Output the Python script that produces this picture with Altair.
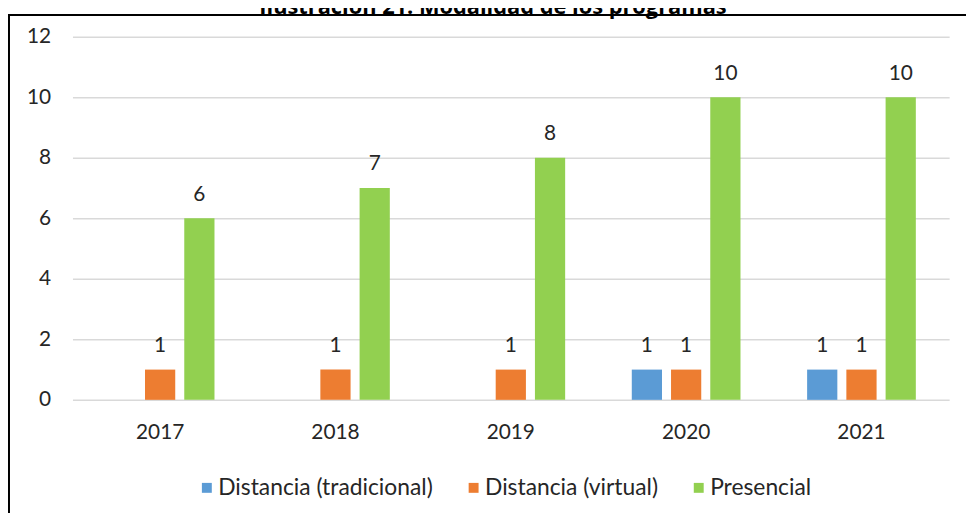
import altair as alt
import pandas as pd

years = ["2017", "2018", "2019", "2020", "2021"]
series = ["Distancia (tradicional)", "Distancia (virtual)", "Presencial"]
trad = [0, 0, 0, 1, 1]
virt = [1, 1, 1, 1, 1]
pres = [6, 7, 8, 10, 10]
colors = ["#5B9BD5", "#ED7D31", "#92D050"]
title_text = "Ilustración 21. Modalidad de los programas"

rows = []
for i, yr in enumerate(years):
    for s, vals in zip(series, [trad, virt, pres]):
        rows.append({"year": yr, "serie": s, "value": vals[i]})
df = pd.DataFrame(rows)

FONT = "Lato"
TXT = "#262626"

x = alt.X("year:N", sort=years, title=None,
          scale=alt.Scale(paddingInner=0.38, paddingOuter=0.19),
          axis=alt.Axis(labelFontSize=21, labelFont=FONT, labelColor=TXT,
                        labelPadding=22, ticks=False, domain=False,
                        labelAngle=0, grid=False))
xo = alt.XOffset("serie:N", sort=series,
                 scale=alt.Scale(domain=series, paddingInner=0.23, paddingOuter=0))
y = alt.Y("value:Q", title=None, scale=alt.Scale(domain=[0, 12]),
          axis=alt.Axis(values=[0, 2, 4, 6, 8, 10, 12], grid=True,
                        gridColor="#d9d9d9", gridWidth=1.5, domain=False,
                        ticks=False, labelPadding=22, labelFontSize=21,
                        labelFont=FONT, labelColor=TXT))
color = alt.Color("serie:N", sort=series,
                  scale=alt.Scale(domain=series, range=colors),
                  legend=alt.Legend(orient="none", legendX=124, legendY=443,
                                    direction="horizontal", title=None,
                                    symbolType="square", symbolSize=100,
                                    symbolStrokeWidth=0,
                                    labelFontSize=23, labelFont=FONT,
                                    labelColor=TXT, labelOffset=0,
                                    labelLimit=500, columnPadding=29))

base = alt.Chart(df)
bars = base.mark_bar().encode(x=x, xOffset=xo, y=y, color=color)
labels = base.transform_filter("datum.value > 0").mark_text(
    dy=-18, baseline="alphabetic", fontSize=21, font=FONT, color=TXT
).encode(x=x, xOffset=xo, y=y, text="value:Q")
title = alt.Chart(alt.Data(values=[{"t": title_text}])).mark_text(
    font="Open Sans", fontWeight="bold", fontSize=22, color="black",
    baseline="alphabetic", align="center"
).encode(x=alt.value(424), y=alt.value(-23), text="t:N")
border = alt.Chart(alt.Data(values=[{}])).mark_rect(
    fill="transparent", stroke="black", strokeWidth=2
).encode(x=alt.value(-64), x2=alt.value(960), y=alt.value(-22), y2=alt.value(600))

chart = alt.layer(bars, labels, title, border).properties(
    width=884, height=366,
    padding={"left": 65, "top": 27, "right": 17, "bottom": 112},
    autosize="none",
).configure_view(stroke=None)

chart.save("out.html", embed_options={"renderer": "svg", "actions": False})
